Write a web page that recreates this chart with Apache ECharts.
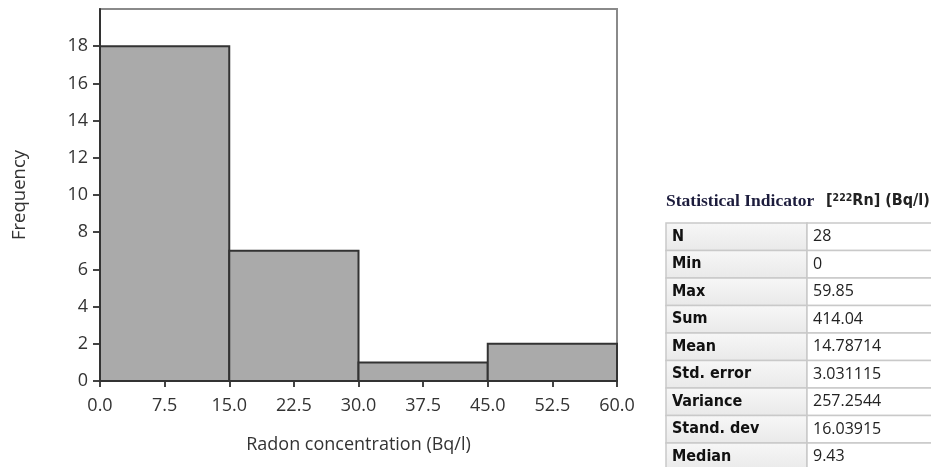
<!DOCTYPE html>
<html><head><meta charset="utf-8">
<script src="https://cdn.jsdelivr.net/npm/echarts@6/dist/echarts.min.js"></script>
<style>html,body{margin:0;padding:0;background:#fff}#c{width:931px;height:467px}</style>
</head><body><div id="c"></div>
<script>
var binStarts = [0, 15, 30, 45];
var binEnds = [15, 30, 45, 60];
var frequencies = [18, 7, 1, 2];
var xTicks = [0, 7.5, 15, 22.5, 30, 37.5, 45, 52.5, 60];
var statNames = ['N','Min','Max','Sum','Mean','Std. error','Variance','Stand. dev','Median'];
var statValues = ['28','0','59.85','414.04','14.78714','3.031115','257.2544','16.03915','9.43'];

var chart = echarts.init(document.getElementById('c'), null, {renderer:'canvas'});
var data = binStarts.map(function(s,i){return [s, binEnds[i], frequencies[i]];});

var graphics = [];
var tx = 666, colW = 141, rowH = 27.5, ty = 223, tw = 280;
graphics.push({type:'text', x: tx, y: 201, style:{
  text:'{a|Statistical Indicator}',
  verticalAlign:'middle',
  rich:{ a:{fontFamily:'Liberation Serif', fontWeight:'bold', fontSize:17.5, fill:'#1c1c3c'} }}});
graphics.push({type:'text', x: 826, y: 201, style:{
  text:'{b|[}{s|222}{b|Rn] (Bq/l)}',
  verticalAlign:'middle',
  rich:{
    b:{fontFamily:'DejaVu Sans Condensed', fontWeight:'bold', fontSize:16, fill:'#222'},
    s:{fontFamily:'DejaVu Sans Condensed', fontWeight:'bold', fontSize:10.5, fill:'#222', verticalAlign:'top', padding:[0,0,6,0]}
  }}});
statNames.forEach(function(n,i){
  var y = ty + i*rowH;
  graphics.push({type:'rect', shape:{x:tx, y:y, width:colW, height:rowH}, style:{fill:new echarts.graphic.LinearGradient(0,0,0,1,[{offset:0,color:'#f7f7f7'},{offset:1,color:'#e9e9e9'}]), stroke:'#c9c9c9', lineWidth:1.5}});
  graphics.push({type:'rect', shape:{x:tx+colW, y:y, width:tw-colW, height:rowH}, style:{fill:'#fff', stroke:'#c9c9c9', lineWidth:1.5}});
  graphics.push({type:'text', x:tx+6, y:y+rowH/2, style:{text:n, fontFamily:'DejaVu Sans Condensed', fontWeight:'bold', fontSize:16, fill:'#111', verticalAlign:'middle'}});
  graphics.push({type:'text', x:tx+colW+6, y:y+rowH/2, style:{text:statValues[i], fontFamily:'Open Sans', fontSize:16, fill:'#222', verticalAlign:'middle'}});
});

chart.setOption({
  animation:false,
  grid:{left:100, right:314, top:9, bottom:86, show:true, borderColor:'#8a8a8a', borderWidth:2, backgroundColor:'#fff'},
  xAxis:{type:'value', min:0, max:60, interval:7.5,
    name:'Radon concentration (Bq/l)', nameLocation:'middle', nameGap:55,
    nameTextStyle:{fontFamily:'Open Sans', fontSize:18, color:'#333'},
    axisLine:{show:true, lineStyle:{color:'#333', width:2}},
    axisTick:{show:true, length:6, lineStyle:{color:'#444', width:2}},
    axisLabel:{fontFamily:'Open Sans', fontSize:18, color:'#333', margin:16, formatter:function(v){return v.toFixed(1);}},
    splitLine:{show:false}},
  yAxis:{type:'value', min:0, max:20, interval:2,
    name:'Frequency', nameLocation:'middle', nameGap:71,
    nameTextStyle:{fontFamily:'Open Sans', fontSize:18.5, color:'#333'},
    axisLine:{show:true, lineStyle:{color:'#333', width:2}},
    axisTick:{show:true, length:7, lineStyle:{color:'#444', width:2}},
    axisLabel:{fontFamily:'Open Sans', fontSize:18, color:'#333', margin:12, showMaxLabel:false},
    splitLine:{show:false}},
  series:[{type:'custom', data:data, encode:{x:[0,1], y:2},
    renderItem:function(params, api){
      var p0 = api.coord([api.value(0), api.value(2)]);
      var p1 = api.coord([api.value(1), 0]);
      return {type:'rect', shape:{x:p0[0], y:p0[1], width:p1[0]-p0[0], height:p1[1]-p0[1]},
        style:{fill:'#aaaaaa', stroke:'#333', lineWidth:2}};
    }}],
  graphic: graphics
});
</script></body></html>
